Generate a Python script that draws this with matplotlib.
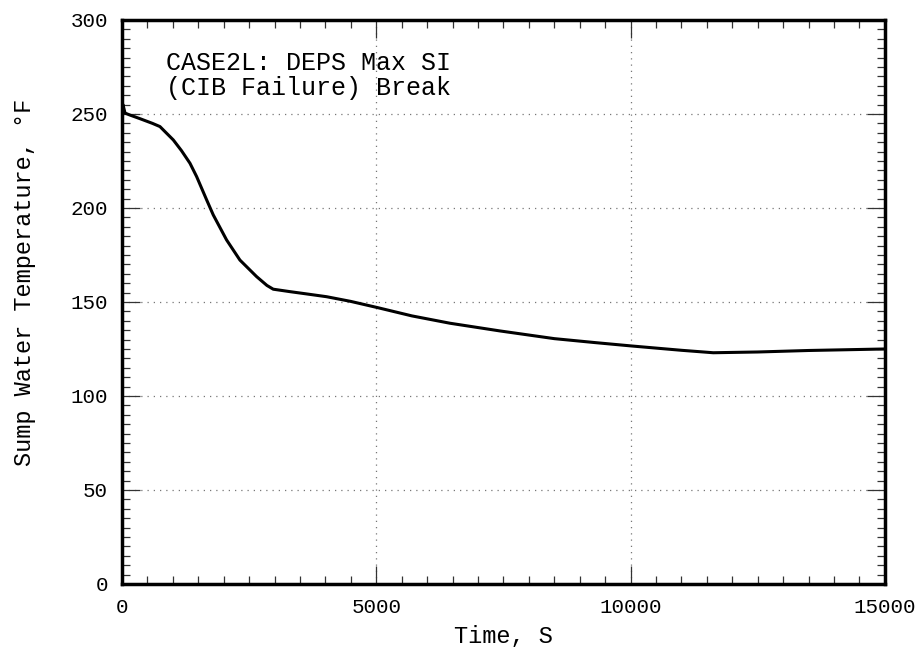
import matplotlib
matplotlib.use("Agg")
import matplotlib.pyplot as plt
from matplotlib.ticker import MultipleLocator

# Valeurs (temps en s, température en °F)
temps = [0, 20, 60, 150, 354, 600, 747, 850, 1009, 1170, 1337, 1468, 1665,
         1795, 2057, 2319, 2647, 2850, 2974, 3302, 3600, 4024, 4500, 5026,
         5700, 6448, 7431, 8500, 9300, 10020, 11000, 11625, 12500, 13500,
         15000]
temperature = [250, 255, 250.5, 249.5, 247.5, 245.0, 243.3, 240.5, 236.2,
               230.5, 223.8, 216.7, 204.3, 196.3, 183.0, 172.3, 163.5, 158.8,
               156.8, 155.5, 154.4, 152.8, 150.3, 147.0, 142.6, 138.7, 134.6,
               130.5, 128.4, 126.6, 124.3, 123.0, 123.4, 124.2, 125.0]

titre = "CASE2L: DEPS Max SI\n(CIB Failure) Break"
police = "Liberation Mono"

fig = plt.figure(figsize=(9.17, 6.53), dpi=100)
ax = fig.add_axes([0.133, 0.1057, 0.832, 0.8637])

ax.plot(temps, temperature, color="black", linewidth=2.2)

ax.set_xlim(0, 15000)
ax.set_ylim(0, 300)
ax.xaxis.set_major_locator(MultipleLocator(5000))
ax.xaxis.set_minor_locator(MultipleLocator(500))
ax.yaxis.set_major_locator(MultipleLocator(50))
ax.yaxis.set_minor_locator(MultipleLocator(5))

ax.tick_params(which="both", direction="in", top=True, right=True,
               width=0.9, color="#333333")
ax.tick_params(which="major", length=13, pad=10)
ax.tick_params(which="minor", length=6)
for lab in ax.get_xticklabels() + ax.get_yticklabels():
    lab.set_fontfamily(police)
    lab.set_fontsize(15)

ax.grid(True, which="major", linestyle=(0, (1, 4)), color="#777777",
        linewidth=0.9)

for s in ax.spines.values():
    s.set_linewidth(2.5)
    s.set_color("black")

ax.set_xlabel("Time, S", fontfamily=police, fontsize=17)
ax.set_ylabel("Sump Water Temperature, °F", fontfamily=police, fontsize=17)
ax.xaxis.set_label_coords(0.5, -0.072)
ax.yaxis.set_label_coords(-0.113, 0.535)

ax.text(0.058, 0.945, titre, transform=ax.transAxes, fontfamily=police,
        fontsize=18, va="top", ha="left", linespacing=1.05)

fig.savefig("out.png", dpi=100)
